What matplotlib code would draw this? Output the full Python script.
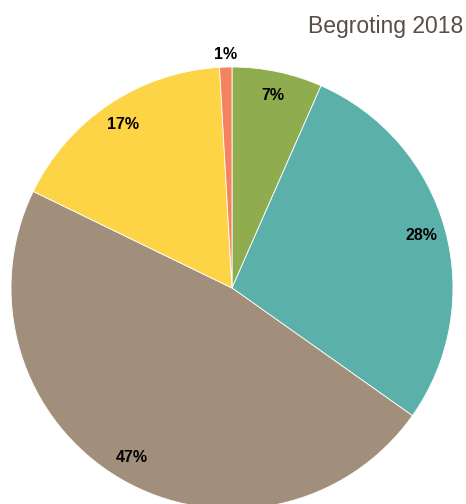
import numpy as np
import matplotlib.pyplot as plt

# begroting 2018, shares in percent (clockwise from 12 o'clock)
labels = ["Groen", "Blauw", "Bruin", "Geel", "Oranje"]
shares = [6.6, 28.2, 47.4, 16.9, 0.9]
colors = ["#8FAD4E", "#5BB1AA", "#A28F7B", "#FDD446", "#F5835E"]

fig = plt.figure(figsize=(4.66, 5.04), dpi=100)
ax = fig.add_axes([11 / 466, -5 / 504, 442 / 466, 442 / 504])

wedges, texts, autotexts = ax.pie(
    shares, colors=colors, startangle=90, counterclock=False,
    autopct="%.0f%%", pctdistance=0.89, radius=1,
    wedgeprops=dict(edgecolor="white", linewidth=0.6),
    textprops=dict(fontsize=11.5, fontweight="bold", color="black",
                   family="Liberation Sans"))

# small slices get their label outside the pie
for w, t, v in zip(wedges, autotexts, shares):
    if v < 3:
        ang = np.deg2rad((w.theta1 + w.theta2) / 2)
        t.set_position((1.055 * np.cos(ang), 1.055 * np.sin(ang)))

ax.set_xlim(-1, 1)
ax.set_ylim(-1, 1)
ax.set_aspect("equal")
ax.axis("off")

fig.text(463 / 466, 1 - 27 / 504, "Begroting 2018", ha="right", va="center",
         fontsize=16.5, color="#5A4E44", family="Liberation Sans")

fig.savefig("out.png", dpi=100)
